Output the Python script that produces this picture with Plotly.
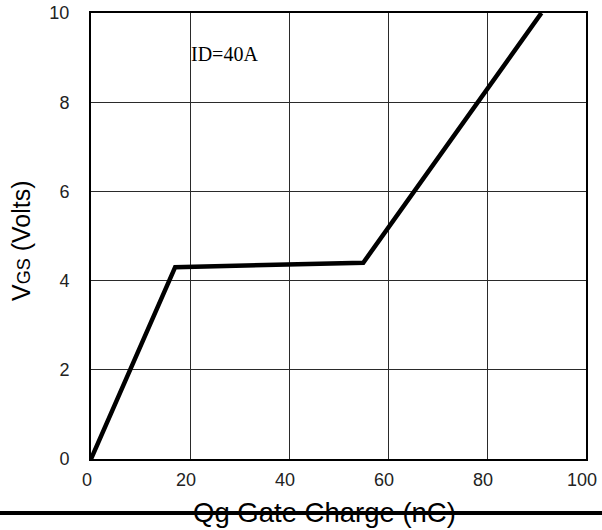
import plotly.graph_objects as go

# Data
qg_nc = [0, 17, 55, 91]
vgs_volts = [0, 4.3, 4.4, 10]
x_ticks = [0, 20, 40, 60, 80, 100]
y_ticks = [0, 2, 4, 6, 8, 10]
note_text = "ID=40A"
x_title = "Qg Gate Charge (nC)"
y_title = "V<span style='font-size:18px'>GS</span> (Volts)"

W, H = 602, 530
# plot box in pixels: left 91, right 586, top 13, bottom 459
L, R, T, B = 91, 16, 13, 71
pw, ph = W - L - R, H - T - B

def px_x(p):
    return (p - L) / pw

def px_y(p):
    return (H - B - p) / ph

fig = go.Figure()
fig.add_trace(go.Scatter(x=qg_nc, y=vgs_volts, mode="lines",
                         line=dict(color="black", width=4.5), showlegend=False,
                         hoverinfo="skip"))

axis_common = dict(showgrid=True, gridcolor="#2a2a2a", gridwidth=1.4,
                   showline=True, linecolor="black", linewidth=2, mirror=True,
                   zeroline=False, ticks="", ticklabeloverflow="allow",
                   automargin=False,
                   tickfont=dict(family="Liberation Sans, Arial", size=18, color="#222"))

fig.update_xaxes(range=[0, 100], tickvals=x_ticks, ticklabelstandoff=3,
                 ticklabelshift=-4, **axis_common)
fig.update_yaxes(range=[0, 10], tickvals=y_ticks, ticklabelstandoff=16, **axis_common)

fig.add_annotation(x=px_x(224), y=px_y(54), xref="paper", yref="paper",
                   text=note_text, showarrow=False, xanchor="center", yanchor="middle",
                   font=dict(family="Liberation Serif", size=20, color="black"))
fig.add_annotation(x=px_x(324), y=px_y(512), xref="paper", yref="paper",
                   text=x_title, showarrow=False, xanchor="center", yanchor="middle",
                   font=dict(family="Liberation Sans, Arial", size=27.5, color="black"))
fig.add_annotation(x=px_x(21), y=px_y(241), xref="paper", yref="paper",
                   text=y_title, showarrow=False, textangle=-90,
                   xanchor="center", yanchor="middle",
                   font=dict(family="Liberation Sans, Arial", size=25, color="black"))

fig.add_shape(type="line", xref="paper", yref="paper",
              x0=px_x(0), x1=px_x(602), y0=px_y(513), y1=px_y(513),
              line=dict(color="black", width=4), layer="above")

fig.update_layout(width=W, height=H, margin=dict(l=L, r=R, t=T, b=B, autoexpand=False),
                  plot_bgcolor="white", paper_bgcolor="white")

post_js = ("document.documentElement.style.margin='0';"
           "document.body.style.margin='0';")

fig.write_html("out.html", post_script=post_js, config={"displayModeBar": False})
